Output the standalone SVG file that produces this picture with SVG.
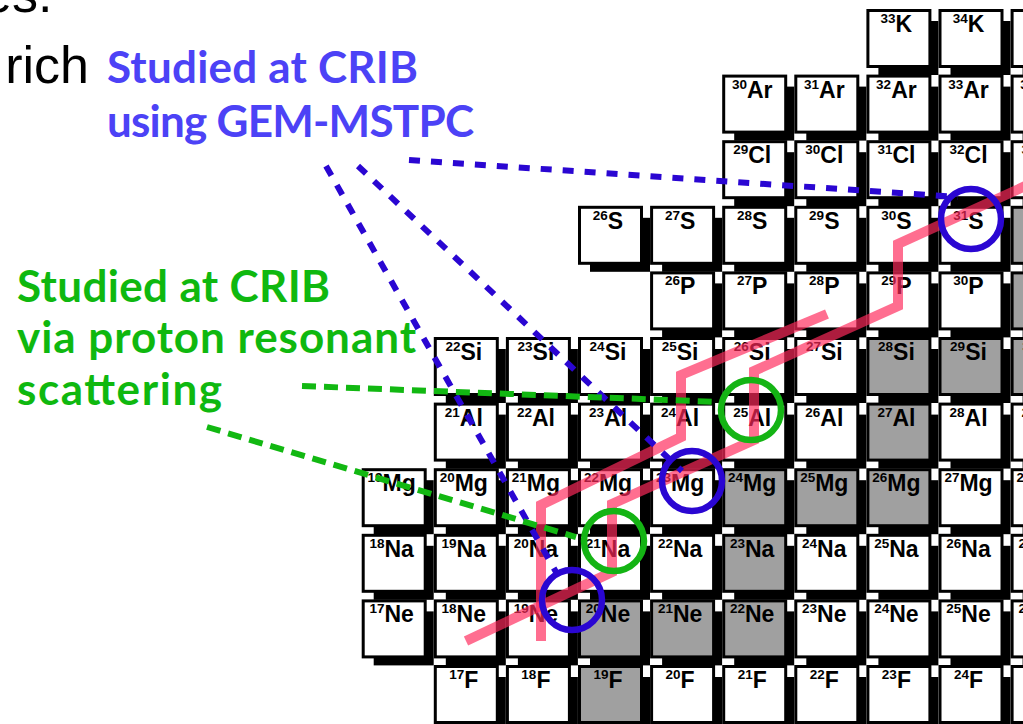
<svg xmlns="http://www.w3.org/2000/svg" width="1023" height="724" viewBox="0 0 1023 724">
<style>
  .lbl{font-family:"Liberation Sans",Arial,sans-serif;font-weight:bold;font-size:23px;fill:#000;text-anchor:middle}
  .a{font-size:13.5px}
  .note{font-family:Lato,"Open Sans",sans-serif;font-weight:700;font-size:44px}
  .blue{fill:#4c42f6}
  .green{fill:#0fb80f}
  .body{font-family:"Liberation Sans",Arial,sans-serif;font-size:52px;fill:#000}
  .rp{fill:none;stroke:#ff2a5c;stroke-opacity:.68;stroke-width:10;stroke-linejoin:miter}
  .ring{fill:none;stroke-width:6.5}
  .rb{stroke:#2a06d2}
  .rg{stroke:#14b414}
  .bd{fill:none;stroke:#2a06d2;stroke-width:6;stroke-dasharray:11 11}
  .gd{fill:none;stroke:#12b812;stroke-width:6;stroke-dasharray:14 8}
</style>
<defs>
  <!-- nuclide cell: drop shadow + face; white = unstable, grey = stable -->
  <g id="cw"><rect x="12" y="12" width="60" height="54" fill="#000"/><rect x="1.5" y="1.5" width="62" height="56" fill="#fff" stroke="#000" stroke-width="3"/></g>
  <g id="cg"><rect x="12" y="12" width="60" height="54" fill="#000"/><rect x="1.5" y="1.5" width="62" height="56" fill="#a0a0a0" stroke="#000" stroke-width="3"/></g>
</defs>

<!-- surrounding slide text -->
<text class="body" x="-17" y="12">es.</text>
<text class="body" x="89" y="83" text-anchor="end">rich</text>
<text class="note blue" x="107" y="83" textLength="311">Studied at CRIB</text>
<text class="note blue" x="107" y="137" textLength="367">using GEM-MSTPC</text>
<text class="note green" x="17" y="302" textLength="313">Studied at CRIB</text>
<text class="note green" x="17" y="353" textLength="399">via proton resonant</text>
<text class="note green" x="17" y="405" textLength="205">scattering</text>

<!-- chart of nuclides: columns N (x = 361.7 + (N-7)*72.1), rows Z (y = 9 + (19-Z)*65.6) -->
<g id="chart">
  <!-- Z=19 K -->
  <g id="K33" transform="translate(866.4,9)"><use href="#cw"/><text class="lbl" x="30" y="23"><tspan class="a" dy="-9">33</tspan><tspan dy="9">K</tspan></text></g>
  <g id="K34" transform="translate(938.5,9)"><use href="#cw"/><text class="lbl" x="30" y="23"><tspan class="a" dy="-9">34</tspan><tspan dy="9">K</tspan></text></g>
  <g id="K35" transform="translate(1010.6,9)"><use href="#cw"/><text class="lbl" x="30" y="23"><tspan class="a" dy="-9">35</tspan><tspan dy="9">K</tspan></text></g>
  <!-- Z=18 Ar -->
  <g id="Ar30" transform="translate(722.2,74.6)"><use href="#cw"/><text class="lbl" x="30" y="23"><tspan class="a" dy="-9">30</tspan><tspan dy="9">Ar</tspan></text></g>
  <g id="Ar31" transform="translate(794.3,74.6)"><use href="#cw"/><text class="lbl" x="30" y="23"><tspan class="a" dy="-9">31</tspan><tspan dy="9">Ar</tspan></text></g>
  <g id="Ar32" transform="translate(866.4,74.6)"><use href="#cw"/><text class="lbl" x="30" y="23"><tspan class="a" dy="-9">32</tspan><tspan dy="9">Ar</tspan></text></g>
  <g id="Ar33" transform="translate(938.5,74.6)"><use href="#cw"/><text class="lbl" x="30" y="23"><tspan class="a" dy="-9">33</tspan><tspan dy="9">Ar</tspan></text></g>
  <g id="Ar34" transform="translate(1010.6,74.6)"><use href="#cw"/><text class="lbl" x="30" y="23"><tspan class="a" dy="-9">34</tspan><tspan dy="9">Ar</tspan></text></g>
  <!-- Z=17 Cl -->
  <g id="Cl29" transform="translate(722.2,140.2)"><use href="#cw"/><text class="lbl" x="30" y="23"><tspan class="a" dy="-9">29</tspan><tspan dy="9">Cl</tspan></text></g>
  <g id="Cl30" transform="translate(794.3,140.2)"><use href="#cw"/><text class="lbl" x="30" y="23"><tspan class="a" dy="-9">30</tspan><tspan dy="9">Cl</tspan></text></g>
  <g id="Cl31" transform="translate(866.4,140.2)"><use href="#cw"/><text class="lbl" x="30" y="23"><tspan class="a" dy="-9">31</tspan><tspan dy="9">Cl</tspan></text></g>
  <g id="Cl32" transform="translate(938.5,140.2)"><use href="#cw"/><text class="lbl" x="30" y="23"><tspan class="a" dy="-9">32</tspan><tspan dy="9">Cl</tspan></text></g>
  <g id="Cl33" transform="translate(1010.6,140.2)"><use href="#cw"/><text class="lbl" x="30" y="23"><tspan class="a" dy="-9">33</tspan><tspan dy="9">Cl</tspan></text></g>
  <!-- Z=16 S -->
  <g id="S26" transform="translate(578,205.8)"><use href="#cw"/><text class="lbl" x="30" y="23"><tspan class="a" dy="-9">26</tspan><tspan dy="9">S</tspan></text></g>
  <g id="S27" transform="translate(650.1,205.8)"><use href="#cw"/><text class="lbl" x="30" y="23"><tspan class="a" dy="-9">27</tspan><tspan dy="9">S</tspan></text></g>
  <g id="S28" transform="translate(722.2,205.8)"><use href="#cw"/><text class="lbl" x="30" y="23"><tspan class="a" dy="-9">28</tspan><tspan dy="9">S</tspan></text></g>
  <g id="S29" transform="translate(794.3,205.8)"><use href="#cw"/><text class="lbl" x="30" y="23"><tspan class="a" dy="-9">29</tspan><tspan dy="9">S</tspan></text></g>
  <g id="S30" transform="translate(866.4,205.8)"><use href="#cw"/><text class="lbl" x="30" y="23"><tspan class="a" dy="-9">30</tspan><tspan dy="9">S</tspan></text></g>
  <g id="S31" transform="translate(938.5,205.8)"><use href="#cw"/><text class="lbl" x="30" y="23"><tspan class="a" dy="-9">31</tspan><tspan dy="9">S</tspan></text></g>
  <g id="S32" transform="translate(1010.6,205.8)"><use href="#cg"/><text class="lbl" x="30" y="23"><tspan class="a" dy="-9">32</tspan><tspan dy="9">S</tspan></text></g>
  <!-- Z=15 P -->
  <g id="P26" transform="translate(650.1,271.4)"><use href="#cw"/><text class="lbl" x="30" y="23"><tspan class="a" dy="-9">26</tspan><tspan dy="9">P</tspan></text></g>
  <g id="P27" transform="translate(722.2,271.4)"><use href="#cw"/><text class="lbl" x="30" y="23"><tspan class="a" dy="-9">27</tspan><tspan dy="9">P</tspan></text></g>
  <g id="P28" transform="translate(794.3,271.4)"><use href="#cw"/><text class="lbl" x="30" y="23"><tspan class="a" dy="-9">28</tspan><tspan dy="9">P</tspan></text></g>
  <g id="P29" transform="translate(866.4,271.4)"><use href="#cw"/><text class="lbl" x="30" y="23"><tspan class="a" dy="-9">29</tspan><tspan dy="9">P</tspan></text></g>
  <g id="P30" transform="translate(938.5,271.4)"><use href="#cw"/><text class="lbl" x="30" y="23"><tspan class="a" dy="-9">30</tspan><tspan dy="9">P</tspan></text></g>
  <g id="P31" transform="translate(1010.6,271.4)"><use href="#cg"/><text class="lbl" x="30" y="23"><tspan class="a" dy="-9">31</tspan><tspan dy="9">P</tspan></text></g>
  <!-- Z=14 Si -->
  <g id="Si22" transform="translate(433.8,337)"><use href="#cw"/><text class="lbl" x="30" y="23"><tspan class="a" dy="-9">22</tspan><tspan dy="9">Si</tspan></text></g>
  <g id="Si23" transform="translate(505.9,337)"><use href="#cw"/><text class="lbl" x="30" y="23"><tspan class="a" dy="-9">23</tspan><tspan dy="9">Si</tspan></text></g>
  <g id="Si24" transform="translate(578,337)"><use href="#cw"/><text class="lbl" x="30" y="23"><tspan class="a" dy="-9">24</tspan><tspan dy="9">Si</tspan></text></g>
  <g id="Si25" transform="translate(650.1,337)"><use href="#cw"/><text class="lbl" x="30" y="23"><tspan class="a" dy="-9">25</tspan><tspan dy="9">Si</tspan></text></g>
  <g id="Si26" transform="translate(722.2,337)"><use href="#cw"/><text class="lbl" x="30" y="23"><tspan class="a" dy="-9">26</tspan><tspan dy="9">Si</tspan></text></g>
  <g id="Si27" transform="translate(794.3,337)"><use href="#cw"/><text class="lbl" x="30" y="23"><tspan class="a" dy="-9">27</tspan><tspan dy="9">Si</tspan></text></g>
  <g id="Si28" transform="translate(866.4,337)"><use href="#cg"/><text class="lbl" x="30" y="23"><tspan class="a" dy="-9">28</tspan><tspan dy="9">Si</tspan></text></g>
  <g id="Si29" transform="translate(938.5,337)"><use href="#cg"/><text class="lbl" x="30" y="23"><tspan class="a" dy="-9">29</tspan><tspan dy="9">Si</tspan></text></g>
  <g id="Si30" transform="translate(1010.6,337)"><use href="#cg"/><text class="lbl" x="30" y="23"><tspan class="a" dy="-9">30</tspan><tspan dy="9">Si</tspan></text></g>
  <!-- Z=13 Al -->
  <g id="Al21" transform="translate(433.8,402.6)"><use href="#cw"/><text class="lbl" x="30" y="23"><tspan class="a" dy="-9">21</tspan><tspan dy="9">Al</tspan></text></g>
  <g id="Al22" transform="translate(505.9,402.6)"><use href="#cw"/><text class="lbl" x="30" y="23"><tspan class="a" dy="-9">22</tspan><tspan dy="9">Al</tspan></text></g>
  <g id="Al23" transform="translate(578,402.6)"><use href="#cw"/><text class="lbl" x="30" y="23"><tspan class="a" dy="-9">23</tspan><tspan dy="9">Al</tspan></text></g>
  <g id="Al24" transform="translate(650.1,402.6)"><use href="#cw"/><text class="lbl" x="30" y="23"><tspan class="a" dy="-9">24</tspan><tspan dy="9">Al</tspan></text></g>
  <g id="Al25" transform="translate(722.2,402.6)"><use href="#cw"/><text class="lbl" x="30" y="23"><tspan class="a" dy="-9">25</tspan><tspan dy="9">Al</tspan></text></g>
  <g id="Al26" transform="translate(794.3,402.6)"><use href="#cw"/><text class="lbl" x="30" y="23"><tspan class="a" dy="-9">26</tspan><tspan dy="9">Al</tspan></text></g>
  <g id="Al27" transform="translate(866.4,402.6)"><use href="#cg"/><text class="lbl" x="30" y="23"><tspan class="a" dy="-9">27</tspan><tspan dy="9">Al</tspan></text></g>
  <g id="Al28" transform="translate(938.5,402.6)"><use href="#cw"/><text class="lbl" x="30" y="23"><tspan class="a" dy="-9">28</tspan><tspan dy="9">Al</tspan></text></g>
  <g id="Al29" transform="translate(1010.6,402.6)"><use href="#cw"/><text class="lbl" x="30" y="23"><tspan class="a" dy="-9">29</tspan><tspan dy="9">Al</tspan></text></g>
  <!-- Z=12 Mg -->
  <g id="Mg19" transform="translate(361.7,468.2)"><use href="#cw"/><text class="lbl" x="30" y="23"><tspan class="a" dy="-9">19</tspan><tspan dy="9">Mg</tspan></text></g>
  <g id="Mg20" transform="translate(433.8,468.2)"><use href="#cw"/><text class="lbl" x="30" y="23"><tspan class="a" dy="-9">20</tspan><tspan dy="9">Mg</tspan></text></g>
  <g id="Mg21" transform="translate(505.9,468.2)"><use href="#cw"/><text class="lbl" x="30" y="23"><tspan class="a" dy="-9">21</tspan><tspan dy="9">Mg</tspan></text></g>
  <g id="Mg22" transform="translate(578,468.2)"><use href="#cw"/><text class="lbl" x="30" y="23"><tspan class="a" dy="-9">22</tspan><tspan dy="9">Mg</tspan></text></g>
  <g id="Mg23" transform="translate(650.1,468.2)"><use href="#cw"/><text class="lbl" x="30" y="23"><tspan class="a" dy="-9">23</tspan><tspan dy="9">Mg</tspan></text></g>
  <g id="Mg24" transform="translate(722.2,468.2)"><use href="#cg"/><text class="lbl" x="30" y="23"><tspan class="a" dy="-9">24</tspan><tspan dy="9">Mg</tspan></text></g>
  <g id="Mg25" transform="translate(794.3,468.2)"><use href="#cg"/><text class="lbl" x="30" y="23"><tspan class="a" dy="-9">25</tspan><tspan dy="9">Mg</tspan></text></g>
  <g id="Mg26" transform="translate(866.4,468.2)"><use href="#cg"/><text class="lbl" x="30" y="23"><tspan class="a" dy="-9">26</tspan><tspan dy="9">Mg</tspan></text></g>
  <g id="Mg27" transform="translate(938.5,468.2)"><use href="#cw"/><text class="lbl" x="30" y="23"><tspan class="a" dy="-9">27</tspan><tspan dy="9">Mg</tspan></text></g>
  <g id="Mg28" transform="translate(1010.6,468.2)"><use href="#cw"/><text class="lbl" x="30" y="23"><tspan class="a" dy="-9">28</tspan><tspan dy="9">Mg</tspan></text></g>
  <!-- Z=11 Na -->
  <g id="Na18" transform="translate(361.7,533.8)"><use href="#cw"/><text class="lbl" x="30" y="23"><tspan class="a" dy="-9">18</tspan><tspan dy="9">Na</tspan></text></g>
  <g id="Na19" transform="translate(433.8,533.8)"><use href="#cw"/><text class="lbl" x="30" y="23"><tspan class="a" dy="-9">19</tspan><tspan dy="9">Na</tspan></text></g>
  <g id="Na20" transform="translate(505.9,533.8)"><use href="#cw"/><text class="lbl" x="30" y="23"><tspan class="a" dy="-9">20</tspan><tspan dy="9">Na</tspan></text></g>
  <g id="Na21" transform="translate(578,533.8)"><use href="#cw"/><text class="lbl" x="30" y="23"><tspan class="a" dy="-9">21</tspan><tspan dy="9">Na</tspan></text></g>
  <g id="Na22" transform="translate(650.1,533.8)"><use href="#cw"/><text class="lbl" x="30" y="23"><tspan class="a" dy="-9">22</tspan><tspan dy="9">Na</tspan></text></g>
  <g id="Na23" transform="translate(722.2,533.8)"><use href="#cg"/><text class="lbl" x="30" y="23"><tspan class="a" dy="-9">23</tspan><tspan dy="9">Na</tspan></text></g>
  <g id="Na24" transform="translate(794.3,533.8)"><use href="#cw"/><text class="lbl" x="30" y="23"><tspan class="a" dy="-9">24</tspan><tspan dy="9">Na</tspan></text></g>
  <g id="Na25" transform="translate(866.4,533.8)"><use href="#cw"/><text class="lbl" x="30" y="23"><tspan class="a" dy="-9">25</tspan><tspan dy="9">Na</tspan></text></g>
  <g id="Na26" transform="translate(938.5,533.8)"><use href="#cw"/><text class="lbl" x="30" y="23"><tspan class="a" dy="-9">26</tspan><tspan dy="9">Na</tspan></text></g>
  <g id="Na27" transform="translate(1010.6,533.8)"><use href="#cw"/><text class="lbl" x="30" y="23"><tspan class="a" dy="-9">27</tspan><tspan dy="9">Na</tspan></text></g>
  <!-- Z=10 Ne -->
  <g id="Ne17" transform="translate(361.7,599.4)"><use href="#cw"/><text class="lbl" x="30" y="23"><tspan class="a" dy="-9">17</tspan><tspan dy="9">Ne</tspan></text></g>
  <g id="Ne18" transform="translate(433.8,599.4)"><use href="#cw"/><text class="lbl" x="30" y="23"><tspan class="a" dy="-9">18</tspan><tspan dy="9">Ne</tspan></text></g>
  <g id="Ne19" transform="translate(505.9,599.4)"><use href="#cw"/><text class="lbl" x="30" y="23"><tspan class="a" dy="-9">19</tspan><tspan dy="9">Ne</tspan></text></g>
  <g id="Ne20" transform="translate(578,599.4)"><use href="#cg"/><text class="lbl" x="30" y="23"><tspan class="a" dy="-9">20</tspan><tspan dy="9">Ne</tspan></text></g>
  <g id="Ne21" transform="translate(650.1,599.4)"><use href="#cg"/><text class="lbl" x="30" y="23"><tspan class="a" dy="-9">21</tspan><tspan dy="9">Ne</tspan></text></g>
  <g id="Ne22" transform="translate(722.2,599.4)"><use href="#cg"/><text class="lbl" x="30" y="23"><tspan class="a" dy="-9">22</tspan><tspan dy="9">Ne</tspan></text></g>
  <g id="Ne23" transform="translate(794.3,599.4)"><use href="#cw"/><text class="lbl" x="30" y="23"><tspan class="a" dy="-9">23</tspan><tspan dy="9">Ne</tspan></text></g>
  <g id="Ne24" transform="translate(866.4,599.4)"><use href="#cw"/><text class="lbl" x="30" y="23"><tspan class="a" dy="-9">24</tspan><tspan dy="9">Ne</tspan></text></g>
  <g id="Ne25" transform="translate(938.5,599.4)"><use href="#cw"/><text class="lbl" x="30" y="23"><tspan class="a" dy="-9">25</tspan><tspan dy="9">Ne</tspan></text></g>
  <g id="Ne26" transform="translate(1010.6,599.4)"><use href="#cw"/><text class="lbl" x="30" y="23"><tspan class="a" dy="-9">26</tspan><tspan dy="9">Ne</tspan></text></g>
  <!-- Z=9 F -->
  <g id="F17" transform="translate(433.8,665)"><use href="#cw"/><text class="lbl" x="30" y="23"><tspan class="a" dy="-9">17</tspan><tspan dy="9">F</tspan></text></g>
  <g id="F18" transform="translate(505.9,665)"><use href="#cw"/><text class="lbl" x="30" y="23"><tspan class="a" dy="-9">18</tspan><tspan dy="9">F</tspan></text></g>
  <g id="F19" transform="translate(578,665)"><use href="#cg"/><text class="lbl" x="30" y="23"><tspan class="a" dy="-9">19</tspan><tspan dy="9">F</tspan></text></g>
  <g id="F20" transform="translate(650.1,665)"><use href="#cw"/><text class="lbl" x="30" y="23"><tspan class="a" dy="-9">20</tspan><tspan dy="9">F</tspan></text></g>
  <g id="F21" transform="translate(722.2,665)"><use href="#cw"/><text class="lbl" x="30" y="23"><tspan class="a" dy="-9">21</tspan><tspan dy="9">F</tspan></text></g>
  <g id="F22" transform="translate(794.3,665)"><use href="#cw"/><text class="lbl" x="30" y="23"><tspan class="a" dy="-9">22</tspan><tspan dy="9">F</tspan></text></g>
  <g id="F23" transform="translate(866.4,665)"><use href="#cw"/><text class="lbl" x="30" y="23"><tspan class="a" dy="-9">23</tspan><tspan dy="9">F</tspan></text></g>
  <g id="F24" transform="translate(938.5,665)"><use href="#cw"/><text class="lbl" x="30" y="23"><tspan class="a" dy="-9">24</tspan><tspan dy="9">F</tspan></text></g>
  <g id="F25" transform="translate(1010.6,665)"><use href="#cw"/><text class="lbl" x="30" y="23"><tspan class="a" dy="-9">25</tspan><tspan dy="9">F</tspan></text></g>
</g>

<!-- reaction paths -->
<g id="paths">
  <path class="rp" d="M541,641 V505 L681,437 V375 L827,314"/>
  <path class="rp" d="M466,641 L612,572 V504 L754,440 V371 L898,306 V244 L1032,183"/>
</g>

<!-- highlighted nuclei -->
<g id="rings">
  <circle class="ring rb" cx="971" cy="219" r="30"/>
  <circle class="ring rb" cx="692" cy="481" r="30"/>
  <circle class="ring rb" cx="572" cy="600" r="30"/>
  <circle class="ring rg" cx="751" cy="410" r="30"/>
  <circle class="ring rg" cx="614" cy="541" r="30"/>
</g>

<!-- leader lines from the notes -->
<g id="connectors">
  <path class="bd" d="M409,160 L958,197"/>
  <path class="bd" d="M326,166 L556,572"/>
  <path class="bd" d="M358,166 L682,471"/>
  <path class="gd" d="M302,386 L720,402"/>
  <path class="gd" d="M207,427 L576,537"/>
</g>
</svg>
